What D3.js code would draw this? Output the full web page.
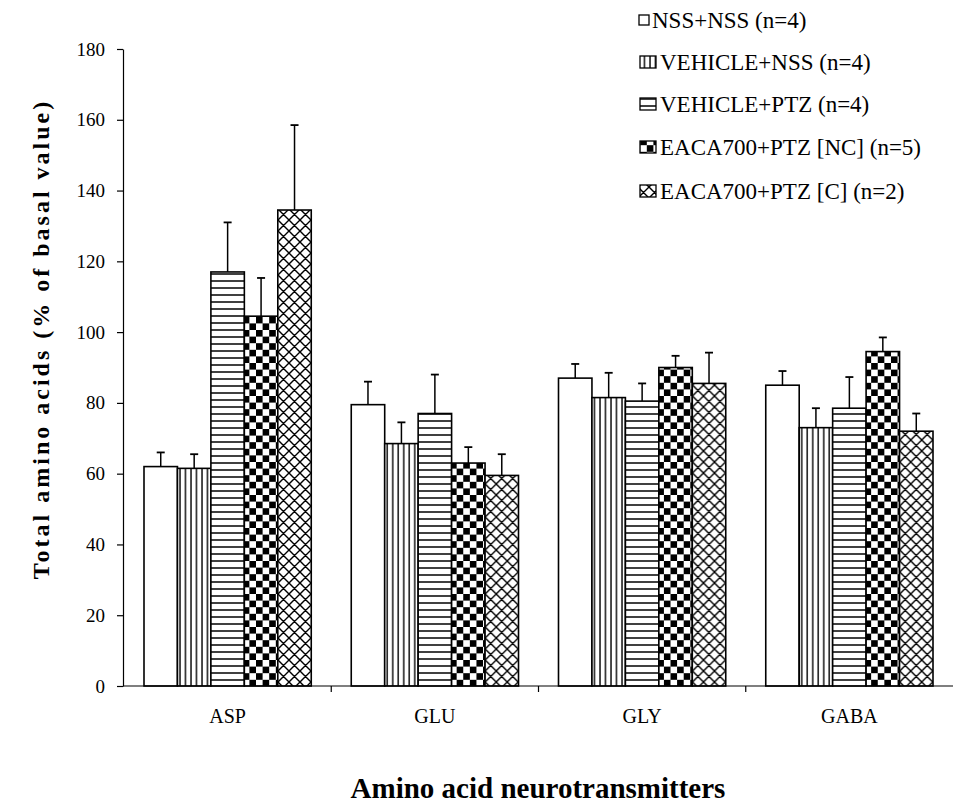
<!DOCTYPE html>
<html><head><meta charset="utf-8">
<script src="https://cdn.jsdelivr.net/npm/d3@7"></script>
<style>body{margin:0;background:#fff}svg{display:block}</style>
</head><body>
<svg id="chart" width="953" height="809"></svg>
<script>
const categories = ["ASP", "GLU", "GLY", "GABA"];
const seriesNames = ["NSS+NSS (n=4)", "VEHICLE+NSS (n=4)", "VEHICLE+PTZ (n=4)", "EACA700+PTZ [NC] (n=5)", "EACA700+PTZ [C] (n=2)"];
const nssNss      = [62, 79.5, 87, 85];
const vehNss      = [61.5, 68.5, 81.5, 73];
const vehPtz      = [117, 77, 80.5, 78.5];
const eacaNC      = [104.5, 63, 90, 94.5];
const eacaC       = [134.5, 59.5, 85.5, 72];
const errNssNss   = [4, 6.5, 4, 4];
const errVehNss   = [4, 6, 7, 5.5];
const errVehPtz   = [14, 11, 5, 8.8];
const errEacaNC   = [10.8, 4.5, 3.3, 4];
const errEacaC    = [24, 6, 8.7, 5];
const yTicks = [0, 20, 40, 60, 80, 100, 120, 140, 160, 180];
const yTitle = "Total amino acids (% of basal value)";
const xTitle = "Amino acid neurotransmitters";

const means = [nssNss, vehNss, vehPtz, eacaNC, eacaC];
const errs = [errNssNss, errVehNss, errVehPtz, errEacaNC, errEacaC];
const fills = ["#fff", "url(#pv)", "url(#ph)", "url(#pc)", "url(#px)"];

const svg = d3.select("#chart");
const font = "'Liberation Serif','Times New Roman',serif";

// patterns
const defs = svg.append("defs");
const pv = defs.append("pattern").attr("id","pv").attr("patternUnits","userSpaceOnUse").attr("width",5.5).attr("height",10);
pv.append("rect").attr("width",5.5).attr("height",10).attr("fill","#fff");
pv.append("line").attr("x1",1).attr("x2",1).attr("y1",0).attr("y2",10).attr("stroke","#000").attr("stroke-width",1.4);
const ph = defs.append("pattern").attr("id","ph").attr("patternUnits","userSpaceOnUse").attr("width",10).attr("height",7);
ph.append("rect").attr("width",10).attr("height",7).attr("fill","#fff");
ph.append("line").attr("x1",0).attr("x2",10).attr("y1",1).attr("y2",1).attr("stroke","#000").attr("stroke-width",1.5);
const pc = defs.append("pattern").attr("id","pc").attr("patternUnits","userSpaceOnUse").attr("width",13.2).attr("height",13.2);
pc.append("rect").attr("width",13.2).attr("height",13.2).attr("fill","#fff");
pc.append("rect").attr("x",0).attr("y",0).attr("width",6.6).attr("height",6.6).attr("fill","#000");
pc.append("rect").attr("x",6.6).attr("y",6.6).attr("width",6.6).attr("height",6.6).attr("fill","#000");
const px = defs.append("pattern").attr("id","px").attr("patternUnits","userSpaceOnUse").attr("width",11).attr("height",11);
px.append("rect").attr("width",11).attr("height",11).attr("fill","#fff");
px.append("path").attr("d","M0,0L11,11M11,0L0,11M-1,10L1,12M10,-1L12,1M-1,1L1,-1M10,12L12,10").attr("stroke","#000").attr("stroke-width",1.4).attr("fill","none");

// scales
const y = d3.scaleLinear().domain([0, 180]).range([686, 49]);
const x = d3.scaleBand().domain(categories).range([124, 953]).padding(0);
const xs = d3.scaleBand().domain(d3.range(seriesNames.length)).range([20, x.bandwidth() - 20]).padding(0);

// y axis
const yAxis = svg.append("g").attr("transform","translate(123,0)")
  .call(d3.axisLeft(y).tickValues(yTicks).tickSize(6).tickSizeOuter(0).tickPadding(12));
yAxis.select(".domain").attr("stroke","#000").attr("stroke-width",1.2);
yAxis.selectAll(".tick line").attr("stroke","#000").attr("stroke-width",1.2);
yAxis.selectAll(".tick text").attr("font-family",font).attr("font-size",19).attr("fill","#000");

// bars
const groups = svg.append("g").selectAll("g").data(categories).join("g")
  .attr("transform", d => `translate(${x(d)},0)`);
groups.each(function(cat, ci) {
  const g = d3.select(this);
  means.forEach((arr, si) => {
    const v = arr[ci], e = errs[si][ci];
    const bx = xs(si), bw = xs.bandwidth();
    g.append("line").attr("x1", bx + bw/2).attr("x2", bx + bw/2)
      .attr("y1", y(v)).attr("y2", y(v + e)).attr("stroke","#000").attr("stroke-width",1.5);
    g.append("line").attr("x1", bx + bw/2 - 4).attr("x2", bx + bw/2 + 4)
      .attr("y1", y(v + e)).attr("y2", y(v + e)).attr("stroke","#000").attr("stroke-width",1.8);
    g.append("rect").attr("x", bx).attr("y", y(v)).attr("width", bw).attr("height", y(0) - y(v))
      .attr("fill", fills[si]).attr("stroke","#000").attr("stroke-width",1.6);
  });
});

// x axis
const xAxisG = svg.append("g").attr("transform","translate(0,686)");
xAxisG.append("line").attr("x1",123).attr("x2",953).attr("y1",0).attr("y2",0).attr("stroke","#000").attr("stroke-width",1.2);
xAxisG.selectAll("line.tk").data(categories.slice(1)).join("line").attr("class","tk")
  .attr("x1", d => x(d)).attr("x2", d => x(d)).attr("y1",0).attr("y2",6).attr("stroke","#000").attr("stroke-width",1.2);
xAxisG.selectAll("text").data(categories).join("text")
  .attr("x", d => x(d) + x.bandwidth()/2).attr("y", 37).attr("text-anchor","middle")
  .attr("font-family",font).attr("font-size",20).text(d => d);

// titles
svg.append("text").attr("x", 538).attr("y", 798).attr("text-anchor","middle")
  .attr("font-family",font).attr("font-weight","bold").attr("font-size",29).text(xTitle);
svg.append("text").attr("transform","translate(49,339) rotate(-90)").attr("text-anchor","middle")
  .attr("font-family",font).attr("font-weight","bold").attr("font-size",24).attr("letter-spacing",3).text(yTitle);

// legend
const legCy = [20, 62, 104, 147, 191];
const leg = svg.append("g");
seriesNames.forEach((name, i) => {
  const w = i === 0 ? 10 : 16, h = i === 0 ? 10 : 12;
  leg.append("rect").attr("x", i === 0 ? 639 : 640).attr("y", legCy[i] - h/2).attr("width", w).attr("height", h)
    .attr("fill", fills[i]).attr("stroke","#000").attr("stroke-width",1.3);
  leg.append("text").attr("x", i === 0 ? 652 : 660).attr("y", legCy[i] + 8)
    .attr("font-family",font).attr("font-size",23).text(name);
});
</script>
</body></html>
